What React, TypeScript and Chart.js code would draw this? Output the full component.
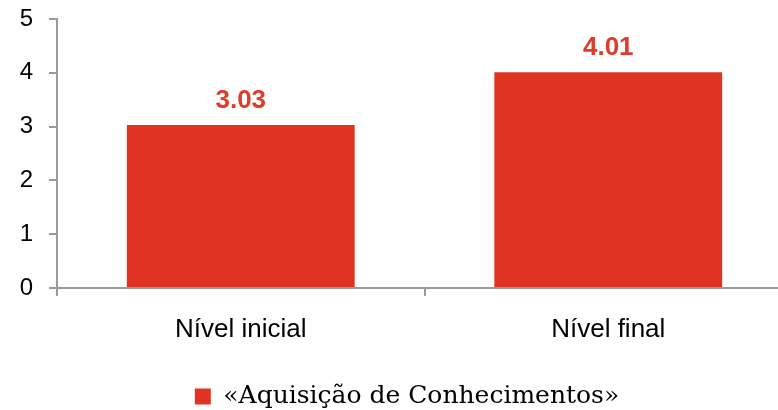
import React, { useEffect, useRef } from "react";
import { Chart, registerables } from "chart.js";

Chart.register(...registerables);

const categories = ["Nível inicial", "Nível final"];
const values = [3.03, 4.01];
const seriesName = "«Aquisição de Conhecimentos»";
const yTicks = [0, 1, 2, 3, 4, 5];

const RED = "#E03322";
const AXIS = "#9A9A9A";

const valueLabels = {
  id: "valueLabels",
  afterDatasetsDraw(chart: any) {
    const ctx = chart.ctx;
    const meta = chart.getDatasetMeta(0);
    ctx.save();
    ctx.fillStyle = "#E03C2A";
    ctx.font = "bold 26px 'Liberation Sans', Arial, sans-serif";
    ctx.textAlign = "center";
    ctx.textBaseline = "alphabetic";
    meta.data.forEach((bar: any, i: number) => {
      ctx.fillText(values[i].toFixed(2), bar.x, bar.y - 17);
    });
    ctx.restore();
  },
};

const shiftLegend = {
  id: "shiftLegend",
  afterLayout(chart: any) {
    if (chart.legend) {
      chart.legend.left += 5;
      chart.legend.right += 5;
      chart.legend.top += 9;
      chart.legend.bottom += 9;
    }
  },
};

export default function App() {
  const ref = useRef<HTMLCanvasElement>(null);
  useEffect(() => {
    if (!ref.current) return;
    const chart = new Chart(ref.current, {
      type: "bar",
      data: {
        labels: categories,
        datasets: [
          {
            label: seriesName,
            data: values,
            backgroundColor: RED,
            borderWidth: 0,
            barPercentage: 0.62,
            categoryPercentage: 1,
          },
        ],
      },
      options: {
        responsive: false,
        animation: false,
        devicePixelRatio: 1,
        layout: { padding: { left: 12, right: 23, top: 19, bottom: 0 } },
        plugins: {
          tooltip: { enabled: false },
          legend: {
            position: "bottom",
            labels: {
              color: "#000",
              boxWidth: 16,
              boxHeight: 16,
              padding: 2,
              font: { family: "'DejaVu Serif', serif", size: 25 },
            },
          },
        },
        scales: {
          x: {
            offset: true,
            grid: {
              offset: true,
              drawOnChartArea: false,
              drawTicks: true,
              tickLength: 8,
              color: AXIS,
              lineWidth: 2,
            },
            border: { color: AXIS, width: 2 },
            ticks: {
              color: "#000",
              padding: 18,
              font: { family: "'Liberation Sans', Arial, sans-serif", size: 26 },
            },
            afterFit(scale: any) {
              scale.height = 85;
            },
          },
          y: {
            min: 0,
            max: 5,
            afterBuildTicks(scale: any) {
              scale.ticks = yTicks.map((v) => ({ value: v }));
            },
            grid: {
              drawOnChartArea: false,
              drawTicks: true,
              tickLength: 8,
              color: AXIS,
              lineWidth: 2,
            },
            border: { color: AXIS, width: 2 },
            ticks: {
              color: "#000",
              padding: 16,
              font: { family: "'Liberation Sans', Arial, sans-serif", size: 24 },
            },
            afterFit(scale: any) {
              scale.width = 45;
              scale.paddingTop = 0;
              scale.paddingBottom = 0;
            },
          },
        },
      },
      plugins: [valueLabels, shiftLegend],
    });
    return () => chart.destroy();
  }, []);

  return (
    <div
      style={{
        position: "absolute",
        left: 0,
        top: 0,
        width: 778,
        height: 410,
        overflow: "hidden",
        background: "#fff",
      }}
    >
      <canvas ref={ref} width={815} height={410} style={{ display: "block" }} />
    </div>
  );
}
